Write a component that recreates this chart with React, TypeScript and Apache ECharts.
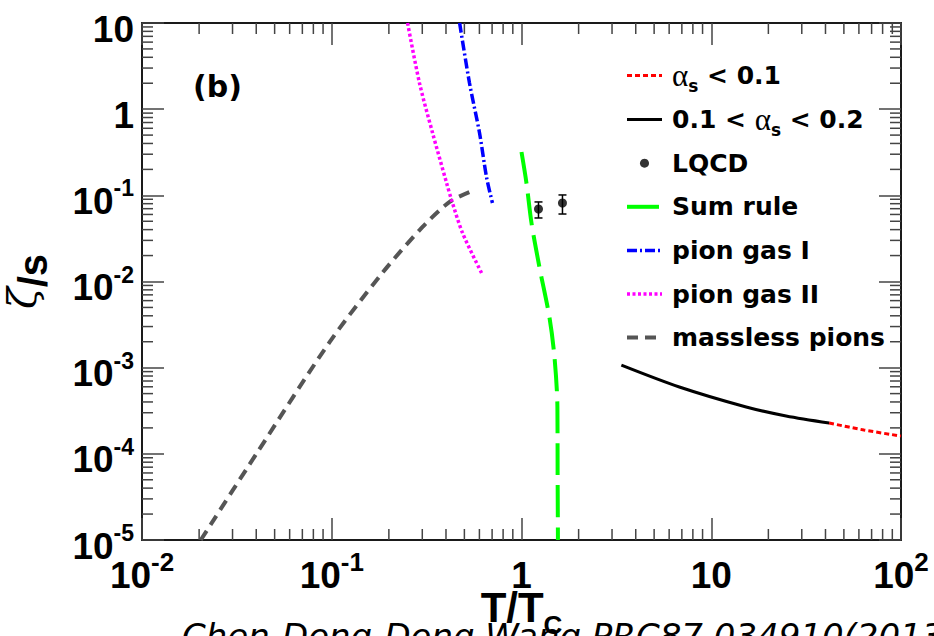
import React, { useEffect, useRef } from 'react';
import * as echarts from 'echarts';

const X_MIN = 0.01;
const X_MAX = 100;
const Y_MIN = 1e-5;
const Y_MAX = 10;

// [T/Tc, zeta/s]
const alphaLow: [number, number][] = [[41.8, 2.28e-4], [63.8, 1.89e-4], [100, 1.61e-4]];
const alphaMid: [number, number][] = [[3.36, 1.07e-3], [6.79, 5.97e-4], [15.28, 3.5e-4], [24.8, 2.75e-4], [41.8, 2.28e-4]];
const lqcdT = [1.229, 1.644];
const lqcdZeta = [0.0694, 0.0815];
const lqcdLow = [0.0546, 0.0607];
const lqcdHigh = [0.0838, 0.101];
const sumRule: [number, number][] = [[1.0, 0.318], [1.062, 0.139], [1.129, 0.0478], [1.243, 0.01472], [1.403, 0.00387], [1.492, 0.00133], [1.546, 3.5e-4], [1.55, 6.0e-5], [1.556, 1e-5]];
const pionGasI: [number, number][] = [[0.472, 10], [0.532, 2.01], [0.601, 0.529], [0.654, 0.163], [0.703, 0.0815]];
const pionGasII: [number, number][] = [[0.251, 10], [0.29, 2.01], [0.34, 0.529], [0.403, 0.139], [0.428, 0.0883], [0.489, 0.0366], [0.616, 0.01256]];
const masslessPions: [number, number][] = [[0.0204, 1e-5], [0.0403, 1.02e-4], [0.0976, 1.99e-3], [0.185, 0.0126], [0.301, 0.043], [0.418, 0.0838], [0.532, 0.109]];

// log-axis minor tick positions (mantissa x decade)
const minorMantissas = [2, 3, 4, 5, 6, 7, 8, 9];
const xMinorDecades = [0.01, 0.1, 1, 10];
const yMinorDecades = [1e-5, 1e-4, 1e-3, 1e-2, 1e-1, 1];

const NAME_A1 = 'αs < 0.1';
const NAME_A2 = '0.1 < αs < 0.2';
const NAME_LQCD = 'LQCD';
const NAME_SUM = 'Sum rule';
const NAME_PG1 = 'pion gas I';
const NAME_PG2 = 'pion gas II';
const NAME_MP = 'massless pions';

const FONT = '"Liberation Sans", Arial, Helvetica, sans-serif';
const LFONT = '"DejaVu Sans", sans-serif';
const FRAME = '#1a1a1a';
const TICK = '#444';
const MAJOR = 22;
const MINOR = 11;

function powLabel(v: number, spacer: boolean): string {
  const e = Math.round(Math.log10(v));
  const pre = spacer ? '{z| }' : '';
  if (e === 0) return pre + '{n|1}';
  if (e === 1) return pre + '{n|10}';
  return pre + '{n|10}{e|' + e + '}';
}

const xRich = {
  n: { fontFamily: FONT, fontWeight: 'bold', fontSize: 37, height: 36, lineHeight: 36, verticalAlign: 'bottom', color: '#000' },
  e: { fontFamily: FONT, fontWeight: 'bold', fontSize: 26, height: 10, lineHeight: 10, verticalAlign: 'top', color: '#000' },
};
const yRich = {
  z: { fontFamily: FONT, fontSize: 2, height: 48, lineHeight: 48, color: '#000' },
  n: { fontFamily: FONT, fontWeight: 'bold', fontSize: 37, height: 36, lineHeight: 36, verticalAlign: 'bottom', color: '#000' },
  e: { fontFamily: FONT, fontWeight: 'bold', fontSize: 23, height: 34, lineHeight: 34, verticalAlign: 'top', color: '#000' },
};

const legendLabels: Record<string, string> = {
  [NAME_A1]: '{a|α}{s|s}{t| < 0.1}',
  [NAME_A2]: '{t|0.1 < }{a|α}{s|s}{t| < 0.2}',
};

export default function App() {
  const ref = useRef<HTMLDivElement>(null);
  useEffect(() => {
    if (!ref.current) return;
    const chart = echarts.init(ref.current, undefined, { renderer: 'svg' });

    const xMinor: number[][] = [];
    xMinorDecades.forEach((d) => minorMantissas.forEach((m) => xMinor.push([m * d, 1])));
    const yMinor: number[][] = [];
    yMinorDecades.forEach((d) => minorMantissas.forEach((m) => yMinor.push([1, m * d])));
    const lqcdData = lqcdT.map((t, i) => [t, lqcdZeta[i], lqcdLow[i], lqcdHigh[i]]);

    const tickStyle = { stroke: TICK, lineWidth: 1.5 };

    const axisCommon = {
      type: 'log',
      logBase: 10,
      axisLine: { show: true, onZero: false, lineStyle: { color: FRAME, width: 2 } },
      axisTick: { show: true, inside: true, length: MAJOR, lineStyle: { color: TICK, width: 1.5 } },
      splitLine: { show: false },
      minorTick: { show: false },
      nameMoveOverlap: false,
    };

    const lineSeries = (name: string, data: [number, number][], color: string, width: number, type: any, z: number) => ({
      name,
      type: 'line',
      data,
      symbol: 'none',
      smooth: 0.3,
      z,
      lineStyle: { color, width, type },
      itemStyle: { color },
      clip: true,
    });

    const option: any = {
      animation: false,
      backgroundColor: '#fff',
      grid: { left: 142, right: 33, top: 23, bottom: 96, containLabel: false, outerBoundsMode: 'none' },
      xAxis: [
        {
          ...axisCommon,
          min: X_MIN,
          max: X_MAX,
          splitNumber: 4,
          position: 'bottom',
          axisLabel: { margin: 17, formatter: (v: number) => powLabel(v, false), rich: xRich },
          name: '{m|T/T}{c|C}',
          nameLocation: 'middle',
          nameGap: 46,
          nameTextStyle: {
            rich: {
              m: { fontFamily: FONT, fontWeight: 'bold', fontSize: 42, height: 42, lineHeight: 42, verticalAlign: 'top', color: '#000' },
              c: { fontFamily: FONT, fontWeight: 'bold', fontSize: 26, height: 77, lineHeight: 77, verticalAlign: 'top', color: '#000' },
            },
          },
        },
        {
          ...axisCommon,
          min: X_MIN,
          max: X_MAX,
          splitNumber: 4,
          position: 'top',
          axisLabel: { show: false },
        },
      ],
      yAxis: [
        {
          ...axisCommon,
          min: Y_MIN,
          max: Y_MAX,
          splitNumber: 6,
          position: 'left',
          axisLabel: { margin: 8, formatter: (v: number) => powLabel(v, true), rich: yRich },
          name: '{z|ζ}{s|/s}',
          nameLocation: 'middle',
          nameRotate: 90,
          nameGap: 87,
          nameTextStyle: {
            rich: {
              z: { fontFamily: '"DejaVu Serif", serif', fontStyle: 'italic', fontSize: 40, height: 22, lineHeight: 22, verticalAlign: 'top', color: '#000' },
              s: { fontFamily: FONT, fontWeight: 'bold', fontSize: 40, height: 44, lineHeight: 44, verticalAlign: 'bottom', color: '#000' },
            },
          },
        },
        {
          ...axisCommon,
          min: Y_MIN,
          max: Y_MAX,
          splitNumber: 6,
          position: 'right',
          axisLabel: { show: false },
        },
      ],
      legend: {
        orient: 'vertical',
        left: 625,
        top: 60,
        padding: 0,
        itemGap: 10.1,
        itemWidth: 35,
        itemHeight: 9,
        selectedMode: false,
        lineStyle: { width: 'inherit' },
        textStyle: {
          padding: [0, 0, 0, 5],
          rich: {
            t: { fontFamily: LFONT, fontWeight: 'bold', fontSize: 25, height: 30, lineHeight: 30, color: '#000' },
            a: { fontFamily: '"Liberation Serif", serif', fontSize: 31, height: 30, lineHeight: 30, color: '#000' },
            s: { fontFamily: LFONT, fontWeight: 'bold', fontSize: 17, height: 10, lineHeight: 10, verticalAlign: 'bottom', color: '#000' },
          },
        },
        formatter: (name: string) => legendLabels[name] ?? '{t|' + name + '}{s| }',
        data: [
          { name: NAME_A1, itemStyle: { opacity: 0 } },
          { name: NAME_A2, itemStyle: { opacity: 0 } },
          { name: NAME_LQCD },
          { name: NAME_SUM, itemStyle: { opacity: 0 } },
          { name: NAME_PG1, itemStyle: { opacity: 0 } },
          { name: NAME_PG2, itemStyle: { opacity: 0 } },
          { name: NAME_MP, itemStyle: { opacity: 0 } },
        ],
      },
      graphic: [
        {
          type: 'text',
          x: 193,
          y: 86,
          style: { text: '(b)', font: 'bold 30px "DejaVu Sans", sans-serif', fill: '#000', align: 'left', verticalAlign: 'middle', textAlign: 'left', textVerticalAlign: 'middle' },
        },
        {
          type: 'text',
          x: 182,
          y: 636,
          z: 10,
          style: { text: 'Chen-Dong-Dong Wang PRC87 034910(2013)', font: 'italic 34px "DejaVu Sans", sans-serif', fill: '#000', align: 'left', verticalAlign: 'middle', textAlign: 'left', textVerticalAlign: 'middle' },
        },
      ],
      series: [
        {
          type: 'custom',
          name: 'xminor',
          silent: true,
          clip: false,
          data: xMinor,
          renderItem: (_p: any, api: any) => {
            const v = api.value(0);
            const b = api.coord([v, Y_MIN]);
            const t = api.coord([v, Y_MAX]);
            return {
              type: 'group',
              children: [
                { type: 'line', shape: { x1: b[0], y1: b[1], x2: b[0], y2: b[1] - MINOR }, style: tickStyle },
                { type: 'line', shape: { x1: t[0], y1: t[1], x2: t[0], y2: t[1] + MINOR }, style: tickStyle },
              ],
            };
          },
        },
        {
          type: 'custom',
          name: 'yminor',
          silent: true,
          clip: false,
          data: yMinor,
          renderItem: (_p: any, api: any) => {
            const v = api.value(1);
            const l = api.coord([X_MIN, v]);
            const r = api.coord([X_MAX, v]);
            return {
              type: 'group',
              children: [
                { type: 'line', shape: { x1: l[0], y1: l[1], x2: l[0] + MINOR, y2: l[1] }, style: tickStyle },
                { type: 'line', shape: { x1: r[0], y1: r[1], x2: r[0] - MINOR, y2: r[1] }, style: tickStyle },
              ],
            };
          },
        },
        lineSeries(NAME_MP, masslessPions, '#555555', 4, [11, 7], 3),
        lineSeries(NAME_PG2, pionGasII, '#ff00ff', 3.5, [3, 2.5], 3),
        lineSeries(NAME_PG1, pionGasI, '#0000ff', 3.5, [10, 3, 2, 3], 3),
        lineSeries(NAME_SUM, sumRule, '#00ff00', 4, [32, 10], 3),
        lineSeries(NAME_A1, alphaLow, '#ff0000', 3, [5, 3], 3),
        lineSeries(NAME_A2, alphaMid, '#000000', 3, 'solid', 4),
        {
          type: 'custom',
          name: 'lqcdErr',
          silent: true,
          data: lqcdData,
          encode: { x: 0, y: 1 },
          renderItem: (_p: any, api: any) => {
            const x = api.value(0);
            const lo = api.coord([x, api.value(2)]);
            const hi = api.coord([x, api.value(3)]);
            const c = 4;
            const st = { stroke: '#000', lineWidth: 1.5 };
            return {
              type: 'group',
              children: [
                { type: 'line', shape: { x1: lo[0], y1: lo[1], x2: hi[0], y2: hi[1] }, style: st },
                { type: 'line', shape: { x1: lo[0] - c, y1: lo[1], x2: lo[0] + c, y2: lo[1] }, style: st },
                { type: 'line', shape: { x1: hi[0] - c, y1: hi[1], x2: hi[0] + c, y2: hi[1] }, style: st },
              ],
            };
          },
        },
        {
          name: NAME_LQCD,
          type: 'scatter',
          data: lqcdT.map((t, i) => [t, lqcdZeta[i]]),
          symbol: 'circle',
          symbolSize: 9,
          itemStyle: { color: '#000' },
          z: 5,
        },
      ],
    };

    chart.setOption(option);
    return () => chart.dispose();
  }, []);

  return <div ref={ref} style={{ position: 'absolute', left: 0, top: 0, width: 934, height: 636, background: '#fff' }} />;
}
